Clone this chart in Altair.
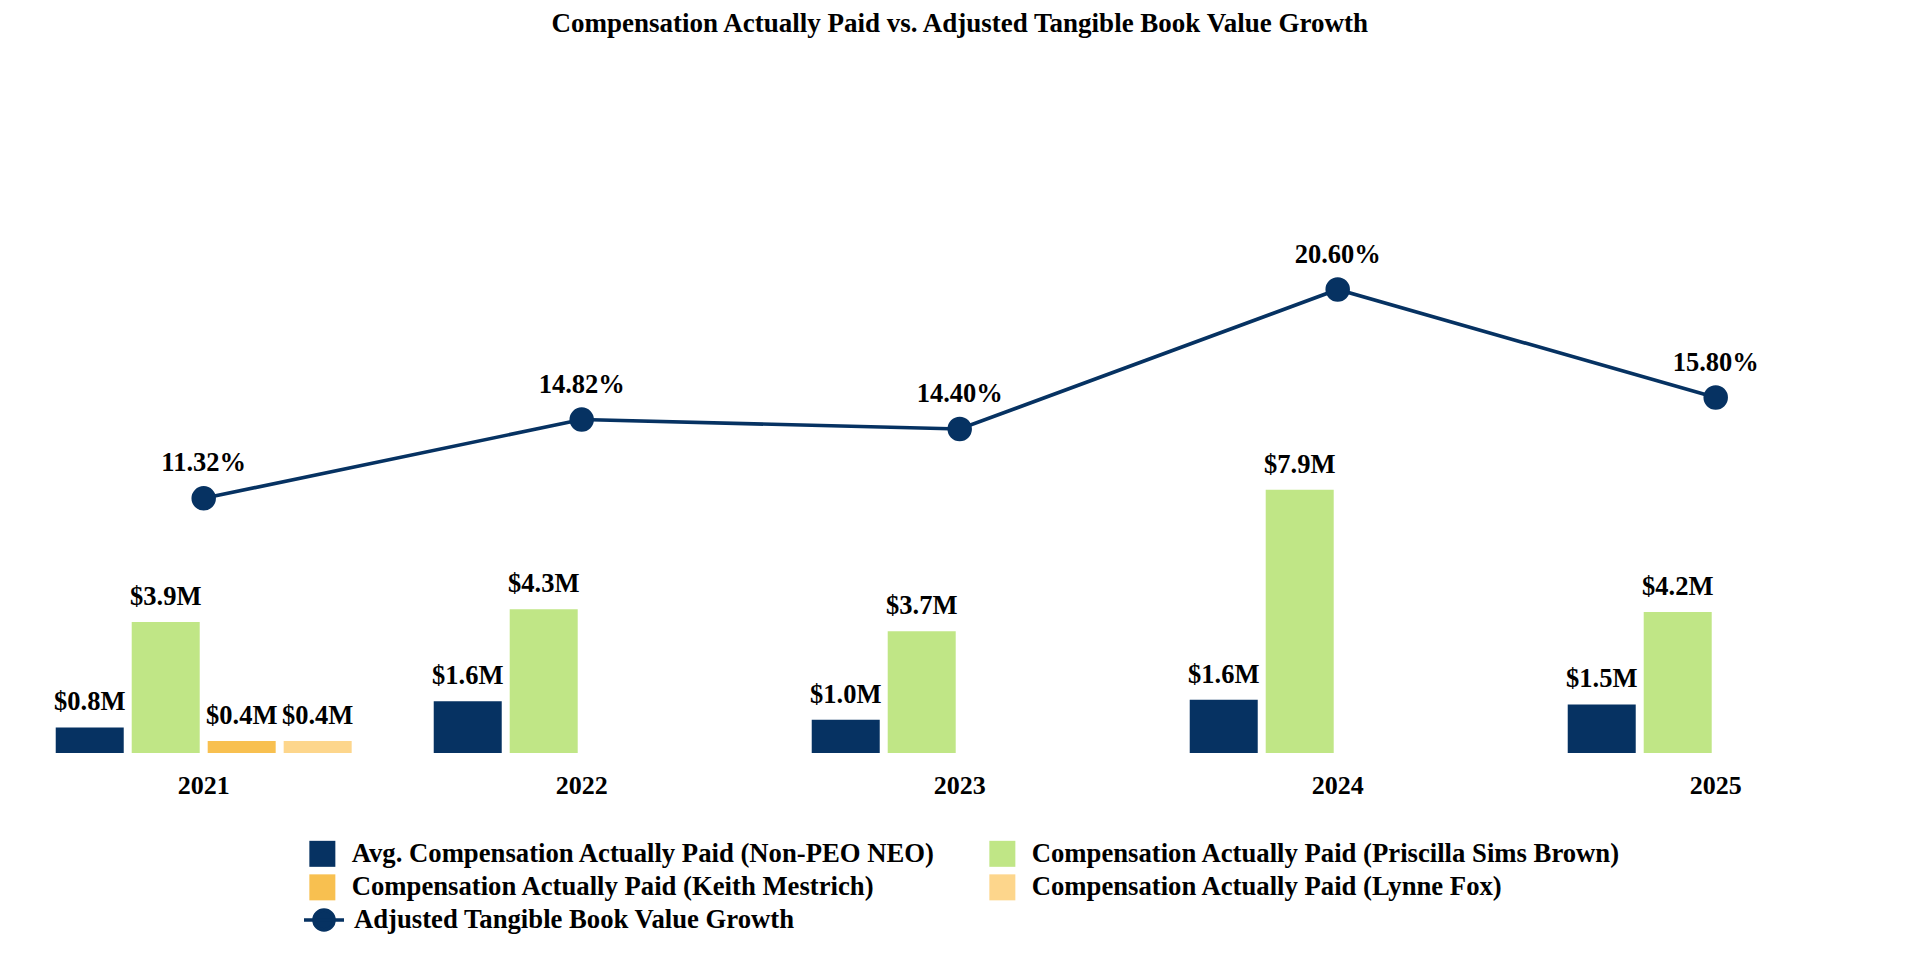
import altair as alt
import pandas as pd

years = ["2021", "2022", "2023", "2024", "2025"]
series = [
    "Avg. Compensation Actually Paid (Non-PEO NEO)",
    "Compensation Actually Paid (Priscilla Sims Brown)",
    "Compensation Actually Paid (Keith Mestrich)",
    "Compensation Actually Paid (Lynne Fox)",
]
neo = [0.77, 1.56, 1.00, 1.60, 1.46]
psb = [3.94, 4.32, 3.66, 7.92, 4.24]
km = [0.36, None, None, None, None]
lf = [0.36, None, None, None, None]
growth = [11.32, 14.82, 14.40, 20.60, 15.80]
line_name = "Adjusted Tangible Book Value Growth"
colors = ["#063262", "#c0e686", "#f8c050", "#fdd68c"]
navy = "#063262"
FONT = "Liberation Serif"

# legend fills column by column: order entries so rows read as in the reference
legend_order = [series[0], series[2], series[1], series[3]]
legend_colors = [colors[0], colors[2], colors[1], colors[3]]

rows = []
for s, vals in zip(series, [neo, psb, km, lf]):
    for y, v in zip(years, vals):
        if v is not None:
            rows.append({"year": y, "series": s, "value": v})
bars_df = pd.DataFrame(rows)
line_df = pd.DataFrame({"year": years, "pct": growth, "name": [line_name] * len(years)})

PLOT_TOP = 53
PLOT_H = 700
PLOT_LEFT = 14.7
PLOT_W = 1890

x_enc = alt.X(
    "year:N",
    sort=years,
    scale=alt.Scale(paddingInner=0, paddingOuter=0),
    axis=alt.Axis(
        title=None, labelAngle=0, domain=False, ticks=False, tickSize=0,
        labelFont=FONT, labelFontSize=26, labelFontWeight="bold", labelColor="black",
        labelPadding=40, labelBaseline="alphabetic",
    ),
)
xoff = alt.XOffset("series:N", sort=series, scale=alt.Scale(paddingInner=0.105, paddingOuter=0.54))
y_bar = alt.Y("value:Q", scale=alt.Scale(domain=[0, PLOT_H / 33.25], nice=False, zero=True), axis=None)
y_pct = alt.Y("pct:Q", scale=alt.Scale(domain=[0, PLOT_H / 22.5], nice=False, zero=True), axis=None)

bars = alt.Chart(bars_df).mark_bar().encode(
    x=x_enc,
    xOffset=xoff,
    y=y_bar,
    color=alt.Color(
        "series:N",
        sort=legend_order,
        scale=alt.Scale(domain=legend_order, range=legend_colors),
        legend=alt.Legend(
            title=None, orient="none", legendX=309 - PLOT_LEFT, legendY=840 - PLOT_TOP,
            columns=2, symbolType="square", symbolSize=676, symbolStrokeWidth=0,
            labelFont=FONT, labelFontSize=26.7, labelFontWeight="bold", labelColor="black",
            labelOffset=16, rowPadding=6, columnPadding=53, labelLimit=2000, padding=0,
        ),
    ),
)
bar_text = alt.Chart(bars_df).transform_calculate(
    label="'$' + format(datum.value, '.1f') + 'M'"
).mark_text(
    font=FONT, fontSize=26.5, fontWeight="bold", color="black", baseline="alphabetic", dy=-17
).encode(x=x_enc, xOffset=xoff, y=y_bar, text="label:N")

line = alt.Chart(line_df).mark_line(color=navy, strokeWidth=3.6).encode(x=x_enc, y=y_pct)
pts = alt.Chart(line_df).mark_point(filled=True, shape="circle", size=600, opacity=1).encode(
    x=x_enc,
    y=y_pct,
    fill=alt.Fill(
        "name:N",
        scale=alt.Scale(domain=[line_name], range=[navy]),
        legend=alt.Legend(
            title=None, orient="none", legendX=302 - PLOT_LEFT, legendY=898 - PLOT_TOP,
            symbolType="M-1,0L1,0M-0.5,0A0.5,0.5,0,1,1,0.5,0A0.5,0.5,0,1,1,-0.5,0Z",
            symbolSize=1600, symbolStrokeColor=navy, symbolStrokeWidth=3.6,
            symbolFillColor=navy, symbolOpacity=1,
            labelFont=FONT, labelFontSize=26.7, labelFontWeight="bold", labelColor="black",
            labelOffset=8, labelLimit=2000, padding=0,
        ),
    ),
)
pct_text = alt.Chart(line_df).transform_calculate(
    label="format(datum.pct, '.2f') + '%'"
).mark_text(
    font=FONT, fontSize=26.5, fontWeight="bold", color="black", baseline="alphabetic", dy=-27
).encode(x=x_enc, y=y_pct, text="label:N")

chart = alt.layer(
    alt.layer(bars, bar_text),
    alt.layer(line, pts, pct_text),
).resolve_scale(y="independent").properties(
    width=PLOT_W,
    height=PLOT_H,
    autosize=alt.AutoSizeParams(type="none"),
    padding={"left": PLOT_LEFT, "top": PLOT_TOP, "right": 1920 - PLOT_LEFT - PLOT_W, "bottom": 960 - PLOT_TOP - PLOT_H},
    title=alt.Title(
        "Compensation Actually Paid vs. Adjusted Tangible Book Value Growth",
        font=FONT, fontSize=27, fontWeight="bold", color="black",
        anchor="middle", baseline="alphabetic", offset=22, dy=28,
    ),
).configure_view(stroke=None)

chart.save("out.html", embed_options={"renderer": "svg", "actions": False})
